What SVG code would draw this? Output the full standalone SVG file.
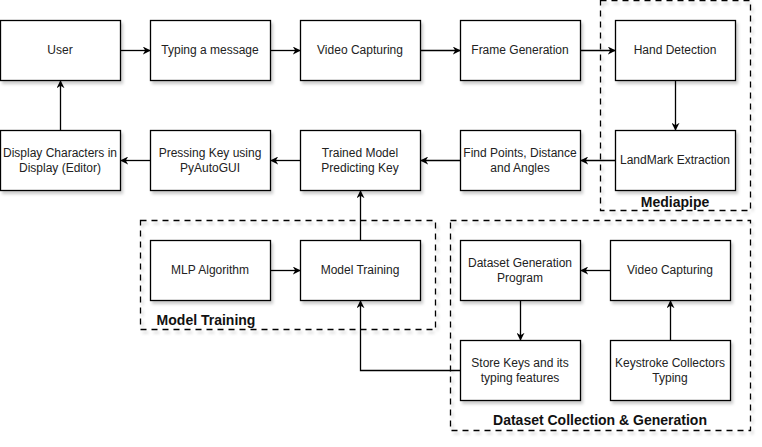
<svg xmlns="http://www.w3.org/2000/svg" width="762" height="447" viewBox="0 0 762 447">
<defs>
<filter id="sh" x="-10%" y="-10%" width="130%" height="140%">
<feDropShadow dx="2" dy="3" stdDeviation="1.5" flood-color="#000" flood-opacity="0.2"/>
</filter>
<marker id="ar" viewBox="0 0 10 10" refX="9" refY="5" markerWidth="8" markerHeight="8" markerUnits="userSpaceOnUse" orient="auto">
<path d="M0,0 L10,5 L0,10 L3,5 Z" fill="#000"/>
</marker>
<style>
.b{fill:#fff;stroke:#000;stroke-width:1.3;filter:url(#sh)}
.g{fill:none;stroke:#000;stroke-width:1.3;stroke-dasharray:6 5;filter:url(#sh)}
.t{font-family:"Liberation Sans",Arial,sans-serif;font-size:12px;fill:#222;text-anchor:middle}
.l{font-family:"Liberation Sans",Arial,sans-serif;font-size:14px;font-weight:bold;fill:#111;text-anchor:middle}
.c{fill:none;stroke:#000;stroke-width:1.3;marker-end:url(#ar)}
</style>
</defs>
<rect width="762" height="447" fill="#fff"/>
<g id="mediapipe"><rect class="g" x="600.5" y="0.5" width="150" height="210"/><text class="l" x="675" y="207">Mediapipe</text></g>
<g id="modeltraininggroup"><rect class="g" x="140.5" y="220.5" width="295" height="109"/><text class="l" x="206" y="325">Model Training</text></g>
<g id="datasetgroup"><rect class="g" x="450.5" y="220.5" width="300" height="210"/><text class="l" x="600" y="425">Dataset Collection &amp; Generation</text></g>
<g id="user"><rect class="b" x="0.5" y="20.5" width="120" height="60"/><text class="t" x="60" y="54">User</text></g>
<g id="typing"><rect class="b" x="150.5" y="20.5" width="120" height="60"/><text class="t" x="210" y="54">Typing a message</text></g>
<g id="videocap1"><rect class="b" x="300.5" y="20.5" width="120" height="60"/><text class="t" x="360" y="54">Video Capturing</text></g>
<g id="frame"><rect class="b" x="460.5" y="20.5" width="120" height="60"/><text class="t" x="520" y="54">Frame Generation</text></g>
<g id="hand"><rect class="b" x="615.5" y="20.5" width="120" height="60"/><text class="t" x="675" y="54">Hand Detection</text></g>
<g id="display"><rect class="b" x="0.5" y="130.5" width="120" height="60"/><text class="t" x="60" y="157">Display Characters in</text><text class="t" x="60" y="172">Display (Editor)</text></g>
<g id="pressing"><rect class="b" x="150.5" y="130.5" width="120" height="60"/><text class="t" x="210" y="157">Pressing Key using</text><text class="t" x="210" y="172">PyAutoGUI</text></g>
<g id="trained"><rect class="b" x="300.5" y="130.5" width="120" height="60"/><text class="t" x="360" y="157">Trained Model</text><text class="t" x="360" y="172">Predicting Key</text></g>
<g id="findpoints"><rect class="b" x="460.5" y="130.5" width="120" height="60"/><text class="t" x="520" y="157">Find Points, Distance</text><text class="t" x="520" y="172">and Angles</text></g>
<g id="landmark"><rect class="b" x="615.5" y="130.5" width="120" height="60"/><text class="t" x="675" y="164">LandMark Extraction</text></g>
<g id="mlp"><rect class="b" x="150.5" y="240.5" width="120" height="60"/><text class="t" x="210" y="274">MLP Algorithm</text></g>
<g id="modeltraining"><rect class="b" x="300.5" y="240.5" width="120" height="60"/><text class="t" x="360" y="274">Model Training</text></g>
<g id="datasetgen"><rect class="b" x="460.5" y="240.5" width="120" height="60"/><text class="t" x="520" y="267">Dataset Generation</text><text class="t" x="520" y="282">Program</text></g>
<g id="videocap2"><rect class="b" x="610.5" y="240.5" width="120" height="60"/><text class="t" x="670" y="274">Video Capturing</text></g>
<g id="storekeys"><rect class="b" x="460.5" y="340.5" width="120" height="60"/><text class="t" x="520" y="367">Store Keys and its</text><text class="t" x="520" y="382">typing features</text></g>
<g id="keystroke"><rect class="b" x="610.5" y="340.5" width="120" height="60"/><text class="t" x="670" y="367">Keystroke Collectors</text><text class="t" x="670" y="382">Typing</text></g>
<g id="connectors">
<path class="c" d="M120.5,50.5 H150"/>
<path class="c" d="M270.5,50.5 H300"/>
<path class="c" d="M420.5,50.5 H460"/>
<path class="c" d="M580.5,50.5 H615"/>
<path class="c" d="M675.5,80.5 V130"/>
<path class="c" d="M615.5,160.5 H581"/>
<path class="c" d="M460.5,160.5 H421"/>
<path class="c" d="M300.5,160.5 H271"/>
<path class="c" d="M150.5,160.5 H121"/>
<path class="c" d="M60.5,130.5 V81"/>
<path class="c" d="M270.5,270.5 H300"/>
<path class="c" d="M360.5,240.5 V191"/>
<path class="c" d="M610.5,270.5 H581"/>
<path class="c" d="M520.5,300.5 V340"/>
<path class="c" d="M670.5,340.5 V301"/>
<path class="c" d="M460.5,370.5 H360.5 V301"/>
</g>
</svg>
